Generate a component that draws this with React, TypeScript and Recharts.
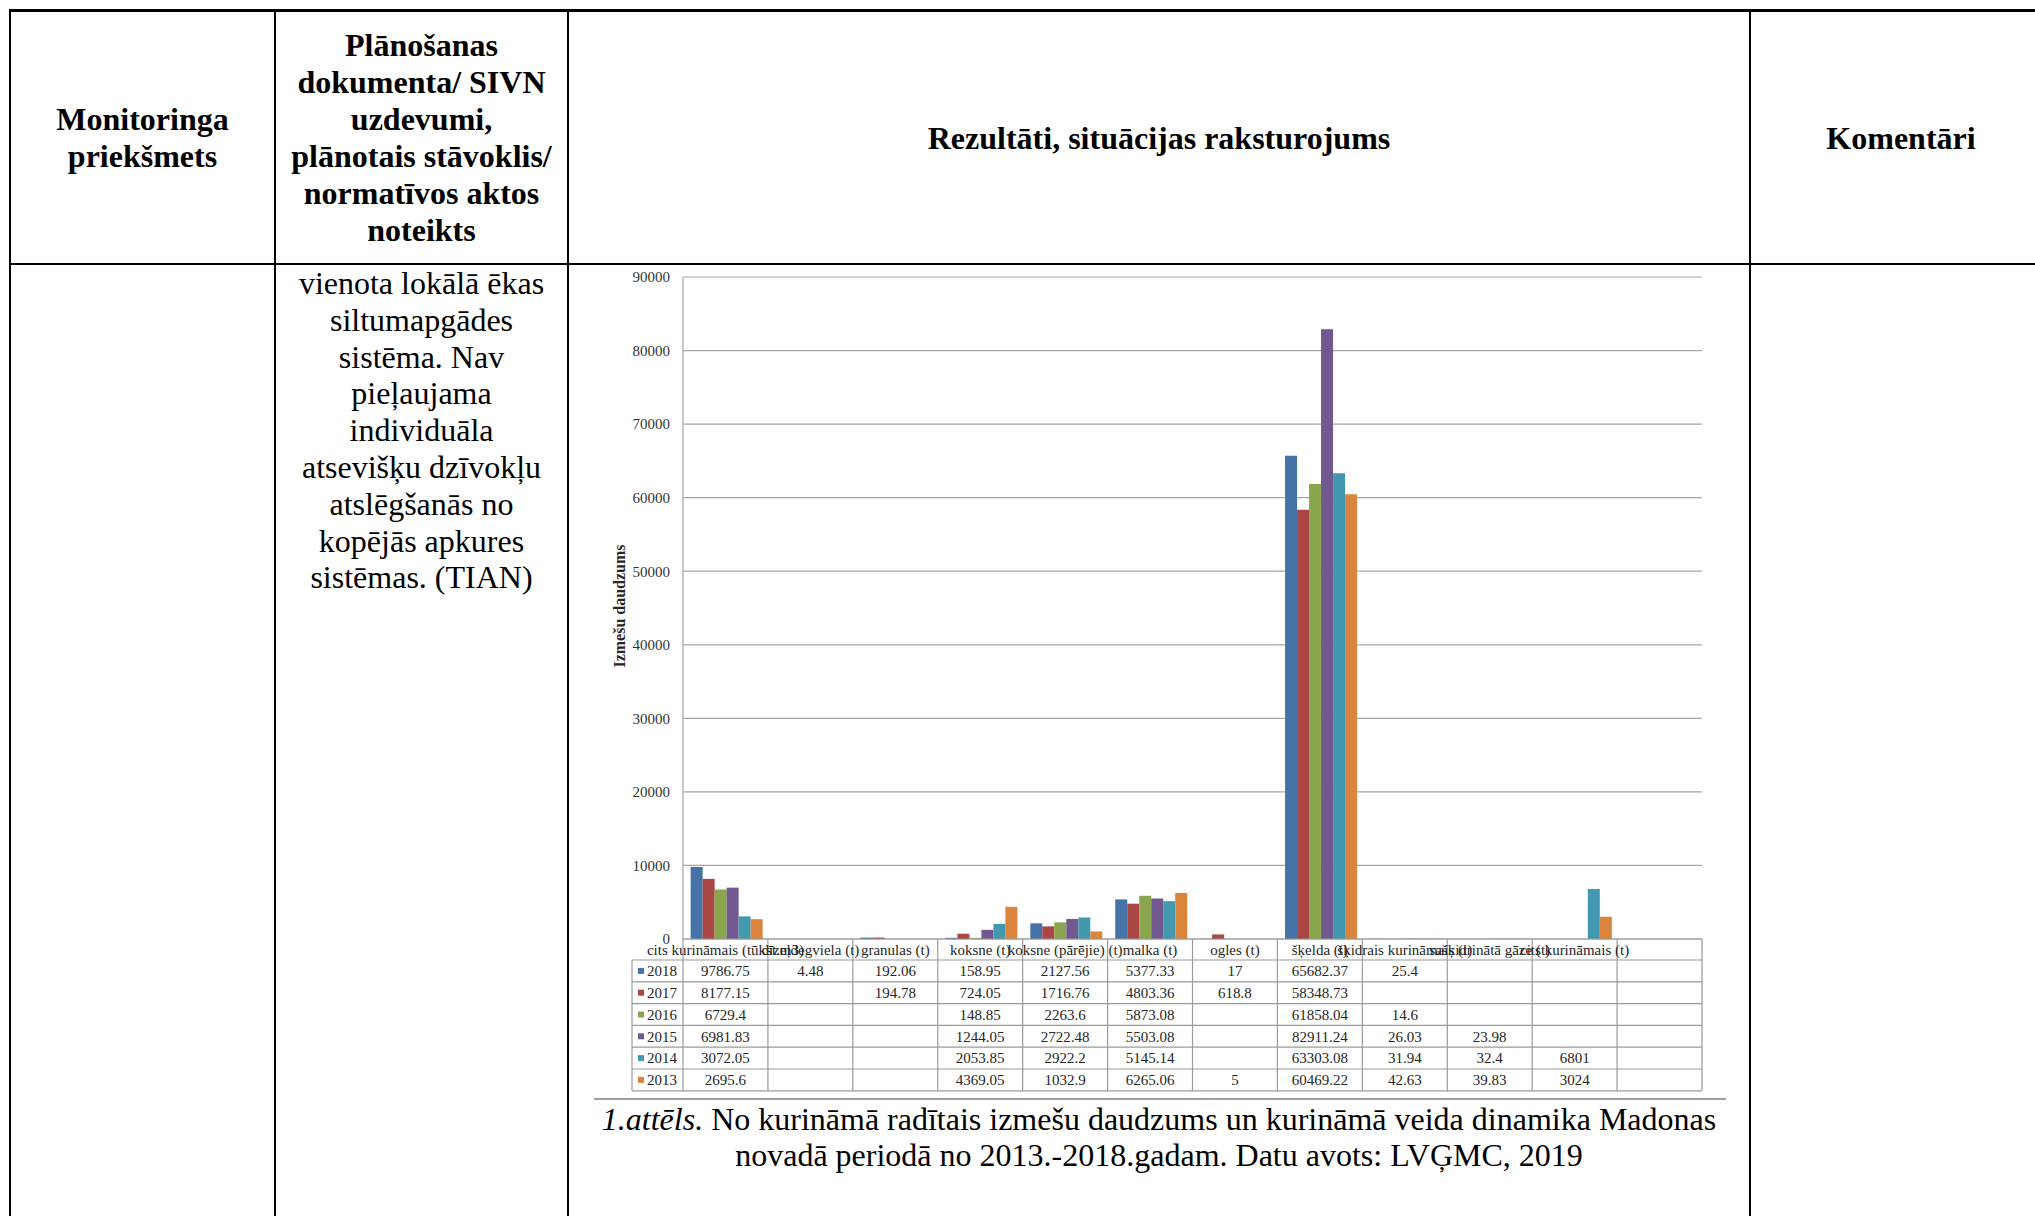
import { BarChart, Bar, XAxis, YAxis, CartesianGrid } from 'recharts'

const categories = [
  'cits kurināmais (tūkst.m3)',
  'dīzeļdegviela (t)',
  'granulas (t)',
  'koksne (t)',
  'koksne (pārējie) (t)',
  'malka (t)',
  'ogles (t)',
  'šķelda (t)',
  'šķidrais kurināmais (t)',
  'sašķidrinātā gāze (t)',
  'cits kurināmais (t)',
  '',
]

const years = ['2018', '2017', '2016', '2015', '2014', '2013']
const colors = ['#4572A7', '#AA4643', '#89A54E', '#71588F', '#4198AF', '#DB843D']

const v2018 = [9786.75, 4.48, 192.06, 158.95, 2127.56, 5377.33, 17, 65682.37, 25.4, null, null, null]
const v2017 = [8177.15, null, 194.78, 724.05, 1716.76, 4803.36, 618.8, 58348.73, null, null, null, null]
const v2016 = [6729.4, null, null, 148.85, 2263.6, 5873.08, null, 61858.04, 14.6, null, null, null]
const v2015 = [6981.83, null, null, 1244.05, 2722.48, 5503.08, null, 82911.24, 26.03, 23.98, null, null]
const v2014 = [3072.05, null, null, 2053.85, 2922.2, 5145.14, null, 63303.08, 31.94, 32.4, 6801, null]
const v2013 = [2695.6, null, null, 4369.05, 1032.9, 6265.06, 5, 60469.22, 42.63, 39.83, 3024, null]

const series = [v2018, v2017, v2016, v2015, v2014, v2013]
const yTicks = [0, 10000, 20000, 30000, 40000, 50000, 60000, 70000, 80000, 90000]

const data = categories.map((name, i) => {
  const row: Record<string, string | number | null> = { name }
  years.forEach((y, j) => {
    row[y] = series[j][i]
  })
  return row
})

// chart geometry
const CHART_W = 1152
const CHART_H = 850
const Y_AXIS_W = 123
const MARGIN = { top: 17, right: 10, left: 0, bottom: 0 }
const COL_W = (CHART_W - Y_AXIS_W - MARGIN.right - MARGIN.left) / categories.length
const LEGEND_W = 51
const HEAD_H = 21
const ROW_H = 21.8
const LINE = '#9a9a9a'
const SERIF = '"Liberation Serif", "Times New Roman", serif'

function TableColumn(props: any) {
  const { x, y, payload } = props
  const i = payload.index
  const left = x - COL_W / 2
  const bottom = y + HEAD_H + years.length * ROW_H
  return (
    <g>
      {i === 0 && (
        <g>
          {Array.from({ length: years.length + 1 }).map((_, r) => (
            <line
              key={r}
              x1={left - LEGEND_W}
              x2={left + COL_W * categories.length}
              y1={y + HEAD_H + r * ROW_H}
              y2={y + HEAD_H + r * ROW_H}
              stroke={LINE}
              strokeWidth={1.2}
            />
          ))}
          <line x1={left - LEGEND_W} x2={left - LEGEND_W} y1={y + HEAD_H} y2={bottom} stroke={LINE} strokeWidth={1.2} />
          <line x1={left} x2={left} y1={y} y2={bottom} stroke={LINE} strokeWidth={1.2} />
          {years.map((yr, j) => (
            <g key={yr}>
              <rect
                x={left - LEGEND_W + 6}
                y={y + HEAD_H + j * ROW_H + ROW_H / 2 - 3}
                width={6}
                height={6}
                fill={colors[j]}
              />
              <text
                x={left - LEGEND_W + 15}
                y={y + HEAD_H + j * ROW_H + ROW_H / 2}
                dy="0.35em"
                fontSize={15}
                fontFamily={SERIF}
                fill="#262626"
              >
                {yr}
              </text>
            </g>
          ))}
        </g>
      )}
      <line x1={left + COL_W} x2={left + COL_W} y1={y} y2={bottom} stroke={LINE} strokeWidth={1.2} />
      <text x={x} y={y + HEAD_H / 2} dy="0.35em" textAnchor="middle" fontSize={15} fontFamily={SERIF} fill="#262626">
        {payload.value}
      </text>
      {series.map((s, j) =>
        s[i] == null ? null : (
          <text
            key={j}
            x={x}
            y={y + HEAD_H + j * ROW_H + ROW_H / 2}
            dy="0.35em"
            textAnchor="middle"
            fontSize={15}
            fontFamily={SERIF}
            fill="#262626"
          >
            {String(s[i])}
          </text>
        )
      )}
    </g>
  )
}

function HLine({ x, y, w, h }: { x: number; y: number; w: number; h: number }) {
  return <div style={{ position: 'absolute', left: x, top: y, width: w, height: h, background: '#000' }} />
}

export default function App() {
  const textBase = {
    position: 'absolute' as const,
    textAlign: 'center' as const,
    fontSize: 32,
    color: '#000',
    whiteSpace: 'nowrap' as const,
  }
  return (
    <div
      style={{
        position: 'absolute',
        left: 0,
        top: 0,
        width: 2035,
        height: 1216,
        overflow: 'hidden',
        background: '#fff',
        fontFamily: SERIF,
      }}
    >
      {/* document table borders */}
      <HLine x={9} y={9} w={2030} h={3} />
      <HLine x={9} y={263} w={2030} h={2} />
      <HLine x={9} y={9} w={2} h={1210} />
      <HLine x={274} y={9} w={2} h={1210} />
      <HLine x={567} y={9} w={2} h={1210} />
      <HLine x={1749} y={9} w={2} h={1210} />

      <div style={{ ...textBase, left: 11, width: 263, top: 101, lineHeight: '37px', fontWeight: 700 }}>
        Monitoringa
        <br />
        priekšmets
      </div>
      <div style={{ ...textBase, left: 276, width: 291, top: 27, lineHeight: '37px', fontWeight: 700 }}>
        Plānošanas
        <br />
        dokumenta/ SIVN
        <br />
        uzdevumi,
        <br />
        plānotais stāvoklis/
        <br />
        normatīvos aktos
        <br />
        noteikts
      </div>
      <div style={{ ...textBase, left: 569, width: 1180, top: 120, lineHeight: '37px', fontWeight: 700 }}>
        Rezultāti, situācijas raksturojums
      </div>
      <div style={{ ...textBase, left: 1751, width: 300, top: 120, lineHeight: '37px', fontWeight: 700 }}>
        Komentāri
      </div>
      <div style={{ ...textBase, left: 276, width: 291, top: 265, lineHeight: '36.8px' }}>
        vienota lokālā ēkas
        <br />
        siltumapgādes
        <br />
        sistēma. Nav
        <br />
        pieļaujama
        <br />
        individuāla
        <br />
        atsevišķu dzīvokļu
        <br />
        atslēgšanās no
        <br />
        kopējās apkures
        <br />
        sistēmas. (TIAN)
      </div>

      {/* chart */}
      <div style={{ position: 'absolute', left: 560, top: 260 }}>
        <BarChart
          width={CHART_W}
          height={CHART_H}
          data={data}
          margin={MARGIN}
          barCategoryGap="9%"
          barGap={0}
        >
          <CartesianGrid horizontal vertical={false} stroke="#a6a6a6" strokeWidth={1.2} />
          <YAxis
            width={Y_AXIS_W}
            domain={[0, 90000]}
            ticks={yTicks}
            tickLine={false}
            tickSize={0}
            tickMargin={13}
            axisLine={{ stroke: '#a6a6a6', strokeWidth: 1.2 }}
            tick={{ fill: '#333', fontSize: 15, fontFamily: SERIF }}
          />
          <XAxis
            dataKey="name"
            height={CHART_H - MARGIN.top - 662}
            interval={0}
            tickLine={false}
            tickSize={0}
            tickMargin={0}
            axisLine={{ stroke: LINE, strokeWidth: 1.2 }}
            tick={<TableColumn />}
          />
          {years.map((y, j) => (
            <Bar key={y} dataKey={y} fill={colors[j]} isAnimationActive={false} />
          ))}
        </BarChart>
      </div>

      <div
        style={{
          position: 'absolute',
          left: 620,
          top: 606,
          transform: 'translate(-50%, -50%) rotate(-90deg)',
          fontSize: 16,
          fontWeight: 700,
          whiteSpace: 'nowrap',
          color: '#262626',
        }}
      >
        Izmešu daudzums
      </div>

      <div style={{ position: 'absolute', left: 594, top: 1098, width: 1132, height: 2, background: '#a0a0a0' }} />
      <div style={{ ...textBase, left: 569, width: 1180, top: 1101, lineHeight: '36px' }}>
        <i>1.attēls.</i> No kurināmā radītais izmešu daudzums un kurināmā veida dinamika Madonas
        <br />
        novadā periodā no 2013.-2018.gadam. Datu avots: LVĢMC, 2019
      </div>
    </div>
  )
}
